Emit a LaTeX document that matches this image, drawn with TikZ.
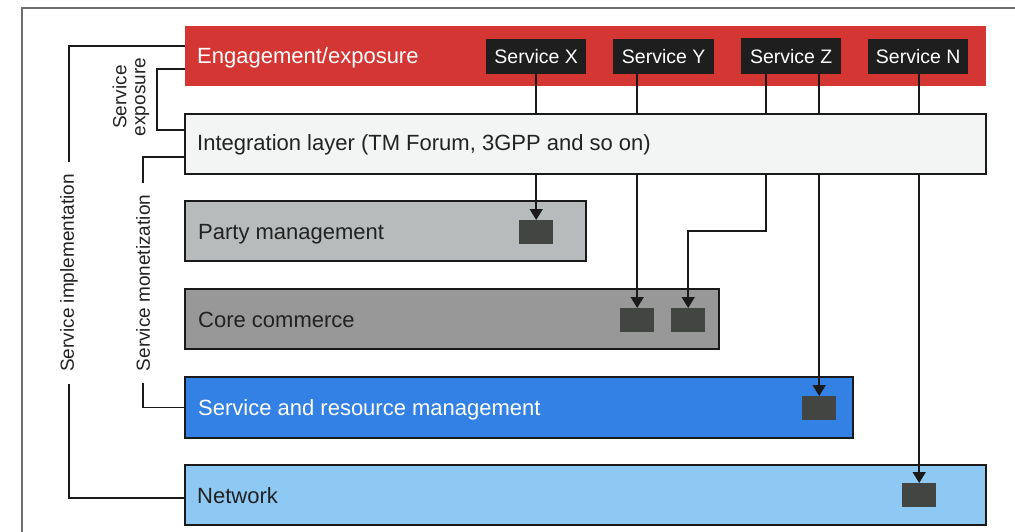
\documentclass[tikz,border=0pt]{standalone}
\usepackage{fontspec}
\setmainfont{Liberation Sans}
\usetikzlibrary{arrows.meta}
\pgfdeclarelayer{front}
\pgfsetlayers{main,front}
\definecolor{engred}{HTML}{D43633}
\definecolor{svcblack}{HTML}{1E1E1E}
\definecolor{integc}{HTML}{F3F4F4}
\definecolor{partyc}{HTML}{B8BBBB}
\definecolor{corec}{HTML}{979897}
\definecolor{srmc}{HTML}{3481E6}
\definecolor{netc}{HTML}{8DC9F3}
\definecolor{sqc}{HTML}{434542}
\definecolor{linec}{HTML}{1A1A1A}
\definecolor{framec}{HTML}{6E6E6E}
\definecolor{textc}{HTML}{222222}
\begin{document}
\begin{tikzpicture}[x=1pt,y=-1pt,
  panel/.style={anchor=north west, inner sep=0pt, outer sep=0pt},
  box/.style={panel, draw=linec, line width=1.4pt},
  lab/.style={anchor=base west, inner sep=0pt, font=\fontsize{22}{26}\selectfont},
  svc/.style={anchor=north west, inner sep=0pt, fill=svcblack, text=white, minimum height=35pt, font=\fontsize{19.5}{22}\selectfont},
  sqr/.style={anchor=north west, inner sep=0pt, fill=sqc, minimum width=34pt, minimum height=24pt},
  conn/.style={draw=linec, line width=1.6pt},
  arr/.style={conn, -{Triangle[width=13pt,length=11pt]}},
  side/.style={rotate=90, text=textc, inner xsep=12pt, inner ysep=0pt, font=\fontsize{19}{19}\selectfont}]
\useasboundingbox (0,0) rectangle (1015,532);
\draw[framec, line width=1.5pt] (22,532) -- (22,8) -- (1015,8);

% layers
\node[panel, fill=engred, minimum width=801pt, minimum height=60pt] (eng) at (185,26) {};
\node[lab, text=white] (englab) at (197,64) {Engagement/exposure};
\node[svc, minimum width=100pt] (sx) at (486,39) {Service X};
\node[svc, minimum width=101pt] (sy) at (613,39) {Service Y};
\node[svc, minimum width=100pt, minimum height=36pt] (sz) at (741,38) {Service Z};
\node[svc, minimum width=100pt] (sn) at (868,39) {Service N};

\begin{pgfonlayer}{front}
\node[box, fill=integc, minimum width=801pt, minimum height=60pt] (integ) at (185,114) {};
\node[lab, text=textc] (integlab) at (197,151) {Integration layer (TM Forum, 3GPP and so on)};
\end{pgfonlayer}

\node[box, fill=partyc, minimum width=401pt, minimum height=60pt] (party) at (185,201) {};
\node[lab, text=textc] (partylab) at (198,239) {Party management};
\node[box, fill=corec, minimum width=534pt, minimum height=60pt] (core) at (185,289) {};
\node[lab, text=textc] (corelab) at (198,327) {Core commerce};
\node[box, fill=srmc, minimum width=668pt, minimum height=61pt] (srm) at (185,377) {};
\node[lab, text=white] (srmlab) at (198,415) {Service and resource management};
\node[box, fill=netc, minimum width=801pt, minimum height=60pt] (net) at (185,465) {};
\node[lab, text=textc] (netlab) at (197,503) {Network};

\node[sqr] (pq) at (519,220) {};
\node[sqr] (cq1) at (620,308) {};
\node[sqr] (cq2) at (671,308) {};
\node[sqr] (sq) at (802,396) {};
\node[sqr] (nq) at (902,483) {};

% connectors
\draw[arr] (pq.north |- sx.south) -- (pq.north);
\draw[arr] (cq1.north |- sy.south) -- (cq1.north);
\coordinate (zbend) at (766,231);
\draw[arr] (zbend |- sz.south) -- (zbend) -| (cq2.north);
\draw[arr] (sq.north |- sz.south) -- (sq.north);
\draw[arr] (nq.north |- sn.south) -- (nq.north);

% side brackets
\node[side] (implab) at (69,273) {Service implementation};
\node[side] (monlab) at (143,283) {Service monetization};
\node[side, align=center, inner xsep=0pt] (explab) at (131,97) {Service\\exposure};
\draw[conn] (implab.east) |- ([yshift=10pt]eng.west);
\draw[conn] (implab.west) |- ([yshift=-3pt]net.west);
\draw[conn] ([yshift=-13pt]eng.west) -- ++(-28,0) |- ([yshift=14pt]integ.west);
\draw[conn] (monlab.east) |- ([yshift=-13pt]integ.west);
\draw[conn] (monlab.west) |- (srm.west);
\end{tikzpicture}
\end{document}
